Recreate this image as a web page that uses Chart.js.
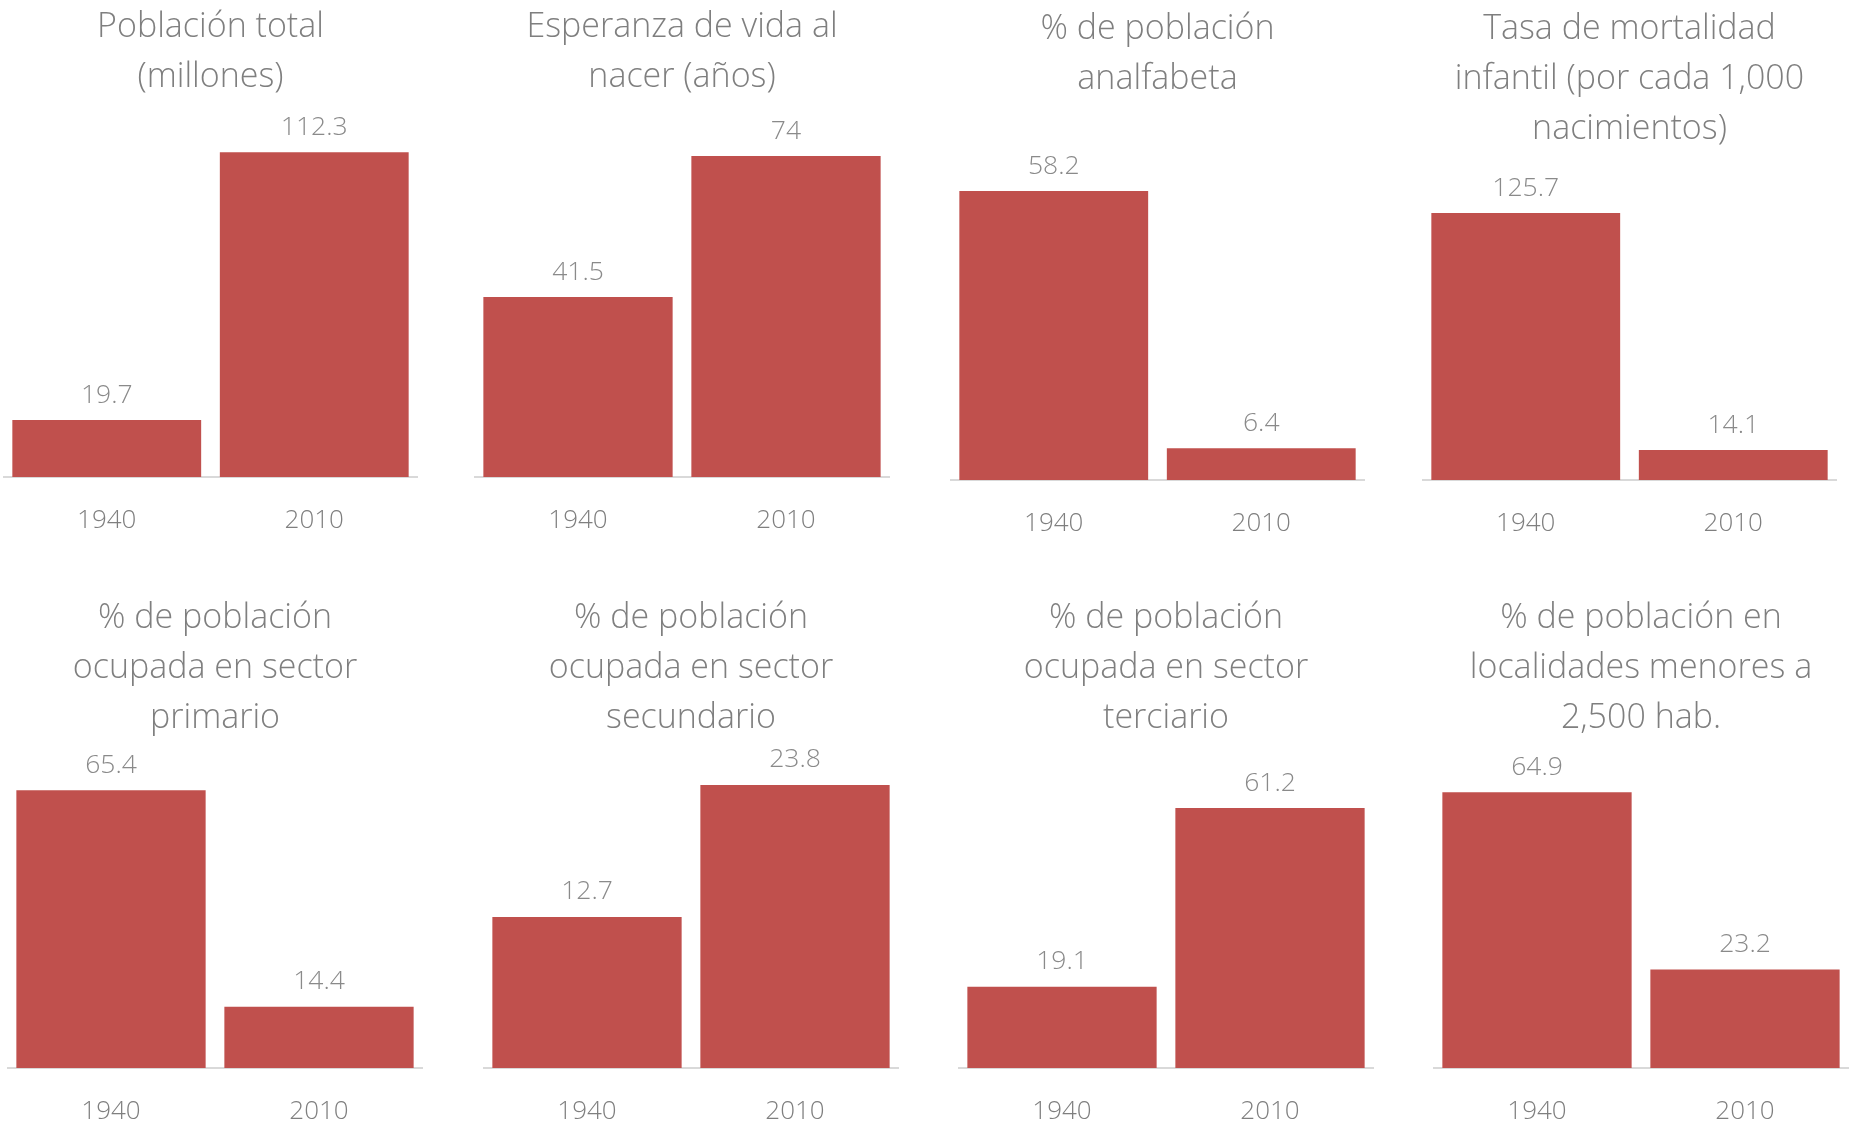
<!DOCTYPE html>
<html>
<head>
<meta charset="utf-8">
<script src="https://cdn.jsdelivr.net/npm/chart.js@4/dist/chart.umd.min.js"></script>
<style>
  html, body { margin: 0; padding: 0; background: #ffffff; }
  body { width: 1865px; height: 1132px; position: relative; overflow: hidden; }
  .panel { position: absolute; }
</style>
</head>
<body>
<script>
// ---- Data ----
const categories = ['1940', '2010'];
const titles = [
  ['Población total', '(millones)'],
  ['Esperanza de vida al', 'nacer (años)'],
  ['% de población', 'analfabeta'],
  ['Tasa de mortalidad', 'infantil (por cada 1,000', 'nacimientos)'],
  ['% de población', 'ocupada en sector', 'primario'],
  ['% de población', 'ocupada en sector', 'secundario'],
  ['% de población', 'ocupada en sector', 'terciario'],
  ['% de población en', 'localidades menores a', '2,500 hab.']
];
const values1940 = [19.7, 41.5, 58.2, 125.7, 65.4, 12.7, 19.1, 64.9];
const values2010 = [112.3, 74, 6.4, 14.1, 14.4, 23.8, 61.2, 23.2];
const axisMax = [120, 80, 70, 140, 70, 25, 70, 70];

// ---- Layout (positions only) ----
const panelLeft = [3, 474, 950, 1422, 7, 483, 958, 1433];
const panelWidth = [415, 416, 415, 415, 416, 416, 416, 416];
const titleTop = [2.3, 2.3, 4.7, 4.7, 593.5, 593.5, 593.5, 593.5];
const axisY = [477, 477, 480, 480, 1068, 1068, 1068, 1068];
const plotTop = [130, 130, 132.4, 182.6, 770.6, 770.6, 770.6, 770.6];

const TITLE_COLOR = '#7f7f7f';
const LABEL_COLOR = '#8a8a8a';
const BAR_COLOR = '#C0504D';
const FONT = "'Open Sans', 'Segoe UI', sans-serif";

const TITLE_LH = 50;
const TICK_LH = 32, TICK_PAD = 28, EXTRA = 4;

const valueLabels = {
  id: 'valueLabels',
  afterDatasetsDraw(chart) {
    const ctx = chart.ctx;
    ctx.save();
    ctx.font = '300 26.5px ' + FONT;
    ctx.fillStyle = LABEL_COLOR;
    ctx.textAlign = 'center';
    ctx.textBaseline = 'middle';
    chart.data.datasets.forEach((ds, di) => {
      chart.getDatasetMeta(di).data.forEach((bar, i) => {
        ctx.fillText(String(ds.data[i]), bar.x, bar.y - 25);
      });
    });
    ctx.restore();
  }
};

for (let p = 0; p < titles.length; p++) {
  const div = document.createElement('div');
  div.className = 'panel';
  const top = Math.floor(titleTop[p]);
  const offset = titleTop[p] - top;
  const xAxisH = TICK_LH + 2 * TICK_PAD;
  const height = Math.round(axisY[p] - top + xAxisH + EXTRA);
  const bottomPad = height - (axisY[p] - top) - xAxisH;
  const gap = plotTop[p] - (titleTop[p] + titles[p].length * TITLE_LH);
  div.style.left = panelLeft[p] + 'px';
  div.style.top = top + 'px';
  div.style.width = panelWidth[p] + 'px';
  div.style.height = height + 'px';
  const canvas = document.createElement('canvas');
  canvas.width = panelWidth[p];
  canvas.height = height;
  canvas.style.width = panelWidth[p] + 'px';
  canvas.style.height = height + 'px';
  div.appendChild(canvas);
  document.body.appendChild(div);

  new Chart(canvas, {
    type: 'bar',
    data: {
      labels: categories,
      datasets: [{
        data: [values1940[p], values2010[p]],
        backgroundColor: BAR_COLOR,
        borderWidth: 0,
        barPercentage: 0.91,
        categoryPercentage: 1.0
      }]
    },
    options: {
      responsive: false,
      animation: false,
      devicePixelRatio: 1,
      layout: { padding: { top: offset, bottom: bottomPad, left: 0, right: 0 } },
      plugins: {
        legend: { display: false },
        tooltip: { enabled: false },
        title: {
          display: true,
          text: titles[p],
          color: TITLE_COLOR,
          font: { family: FONT, size: 34, weight: '300', lineHeight: TITLE_LH + 'px' },
          padding: { top: 0, bottom: gap }
        }
      },
      scales: {
        x: {
          grid: { display: false, drawTicks: false },
          border: { display: true, color: '#d9d9d9', width: 2 },
          ticks: {
            color: TITLE_COLOR,
            padding: TICK_PAD,
            font: { family: FONT, size: 26, weight: '300', lineHeight: TICK_LH + 'px' }
          }
        },
        y: {
          display: false,
          min: 0,
          max: axisMax[p]
        }
      }
    },
    plugins: [valueLabels]
  });
}
</script>
</body>
</html>
